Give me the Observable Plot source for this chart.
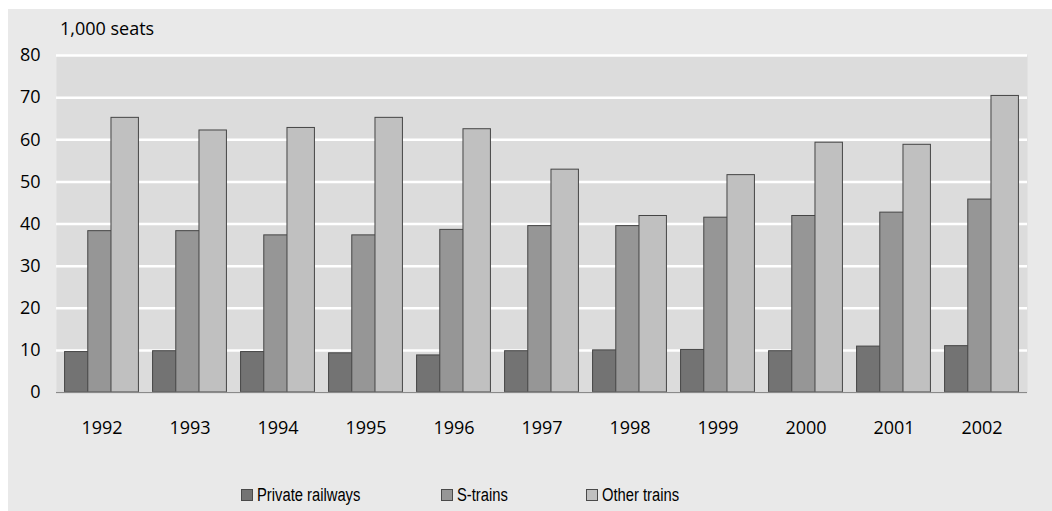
<!DOCTYPE html>
<html>
<head>
<meta charset="utf-8">
<script src="https://cdn.jsdelivr.net/npm/d3@7"></script>
<script src="https://cdn.jsdelivr.net/npm/@observablehq/plot@0.6"></script>
<style>
  html, body { margin: 0; padding: 0; background: #ffffff; }
  body { width: 1052px; height: 511px; position: relative; overflow: hidden; }
  #panel { position: absolute; left: 8px; top: 9px; width: 1044px; height: 502px; background: #e9e9e9; }
  #title { position: absolute; left: 60px; top: 19px; font-family: "Open Sans", sans-serif; font-size: 18px; line-height: 18px; color: #000; white-space: nowrap; }
  #chart { position: absolute; left: 8px; top: 9px; }
  #legend { position: absolute; left: 0; top: 485.8px; width: 1052px; height: 22px; font-family: "Liberation Sans", Arial, sans-serif; font-size: 18px; line-height: 18px; color: #000; white-space: nowrap; }
  .item { position: absolute; top: 0; white-space: nowrap; }
  .sw { display: inline-block; width: 10px; height: 10px; border: 1px solid #4a4a4a; margin-right: 4.5px; vertical-align: baseline; }
  .lab { display: inline-block; transform: scaleX(0.82); transform-origin: 0 50%; }
</style>
</head>
<body>
<div id="panel"></div>
<div id="title">1,000 seats</div>
<div id="chart"></div>
<div id="legend"></div>
<script>
// ---- data ----
const years = ["1992","1993","1994","1995","1996","1997","1998","1999","2000","2001","2002"];
const seriesNames = ["Private railways", "S-trains", "Other trains"];
const privateRailways = [9.6, 9.8, 9.6, 9.3, 8.8, 9.8, 10.0, 10.1, 9.8, 10.9, 11.0];
const sTrains = [38.3, 38.3, 37.3, 37.3, 38.6, 39.5, 39.5, 41.5, 41.9, 42.7, 45.8];
const otherTrains = [65.2, 62.2, 62.8, 65.2, 62.5, 52.9, 41.9, 51.6, 59.3, 58.8, 70.4];
const yTicks = [0, 10, 20, 30, 40, 50, 60, 70, 80];
const colors = ["#737373", "#969696", "#c0c0c0"];

const seriesValues = [privateRailways, sTrains, otherTrains];
const tables = seriesValues.map((vals, s) => years.map((year, i) => ({year, series: seriesNames[s], value: vals[i]})));

// layout
const W = 1044, H = 431;
const mL = 48, mR = 25, mT = 46, mB = 48;
const padIn = 0.212;
const step = (W - mL - mR) / (years.length - padIn + 2 * padIn / 2);
const bw = step * (1 - padIn);
const barW = 28;
const barStep = 23.2;
const inset = (bw - barW) / 2;

const barMarks = tables.map((t, s) => Plot.barY(t, {
  x: "year", y: "value",
  fill: colors[s], stroke: "#454545", strokeWidth: 1,
  insetLeft: inset, insetRight: inset,
  dx: (s - 1) * barStep
}));

const plot = Plot.plot({
  width: W, height: H,
  marginLeft: mL, marginRight: mR, marginTop: mT, marginBottom: mB,
  style: { background: "transparent", fontFamily: "'Open Sans', sans-serif", fontSize: "18px", color: "#000" },
  x: { type: "band", domain: years, paddingInner: padIn, paddingOuter: padIn / 2, label: null },
  y: { domain: [0, 80], label: null },
  marks: [
    Plot.frame({ fill: "#dcdcdc", stroke: null }),
    Plot.gridY(yTicks, { stroke: "#ffffff", strokeOpacity: 1, strokeWidth: 2.5 }),
    ...barMarks,
    Plot.ruleY([0], { stroke: "#8a8a8a", strokeWidth: 1.5 }),
    Plot.axisY(yTicks, { tickSize: 0, tickPadding: 16, label: null, fontSize: 18 }),
    Plot.axisX({ tickSize: 0, tickPadding: 28.5, label: null, fontSize: 18 })
  ]
});
document.getElementById("chart").appendChild(plot);

// legend
const legendX = [240.5, 440.5, 585.5];
const legend = document.getElementById("legend");
seriesNames.forEach((name, s) => {
  const item = document.createElement("span");
  item.className = "item";
  item.style.left = legendX[s] + "px";
  const sw = document.createElement("span");
  sw.className = "sw";
  sw.style.background = colors[s];
  const lab = document.createElement("span");
  lab.className = "lab";
  lab.textContent = name;
  item.appendChild(sw);
  item.appendChild(lab);
  legend.appendChild(item);
});
</script>
</body>
</html>
